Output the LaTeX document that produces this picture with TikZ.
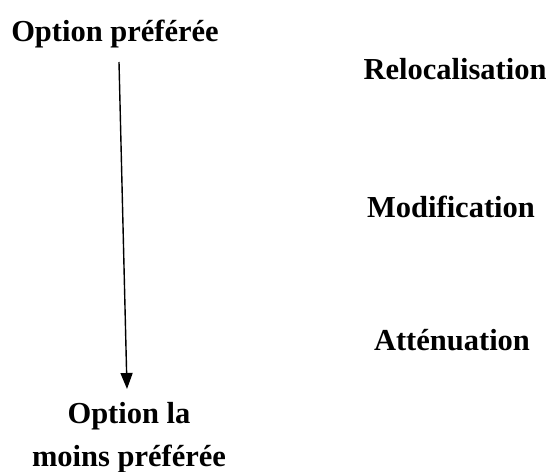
\documentclass[tikz,border=0pt]{standalone}
\usepackage{fontspec}
\setmainfont{Liberation Serif}
\usetikzlibrary{arrows.meta}

\tikzset{
    label text/.style={font=\fontsize{30.5}{43}\selectfont\bfseries, inner sep=0pt, anchor=base},
    order arrow/.style={-{Triangle[length=16pt,width=12pt]}, line width=1.4pt}
}

\begin{document}
\begin{tikzpicture}[x=1pt, y=-1pt]
        \useasboundingbox (0,0) rectangle (550,472);
        \node[label text] (best) at (115,41) {Option préférée};
        \node[label text, align=center] (worst) at (129,466) {Option la\\moins préférée};
        \node[label text] (reloc) at (455,79) {Relocalisation};
        \node[label text] (modif) at (451,217) {Modification};
        \node[label text] (atten) at (452,350) {Atténuation};
        \coordinate (top) at (119,62);
        \coordinate (tip) at (127,389);
        \draw[order arrow] (top) -- (tip);
    \end{tikzpicture}
\end{document}
